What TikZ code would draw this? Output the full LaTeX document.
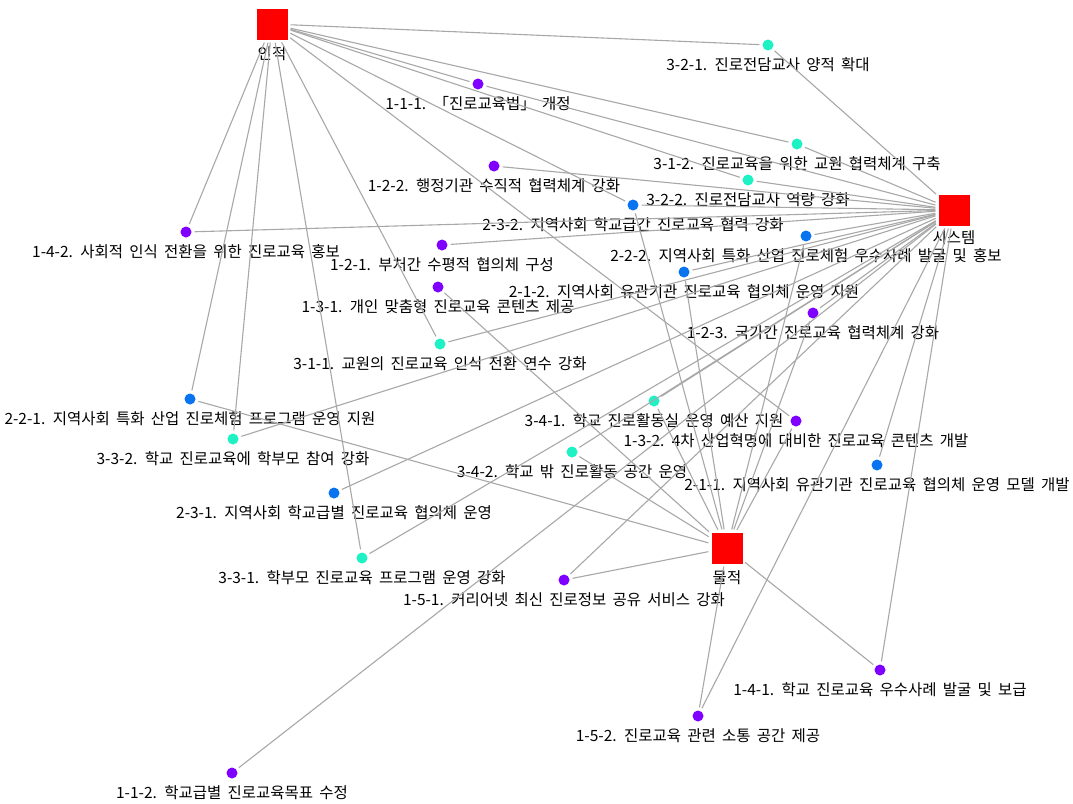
\documentclass[tikz,border=0pt]{standalone}
\usepackage{fontspec}
\setmainfont[WordSpace=1.8]{Noto Sans CJK KR}
\usepackage{xcolor}
\usetikzlibrary{positioning}
\definecolor{hubred}{HTML}{FF0000}
\definecolor{dotpurple}{HTML}{7F00FF}
\definecolor{dotblue}{HTML}{0A74F0}
\definecolor{dotcyan}{HTML}{1EF2C4}
\definecolor{edgegray}{HTML}{A8A8A8}

\begin{document}
\begin{tikzpicture}[x=1pt,y=-1pt,font=\fontsize{15.5}{17}\selectfont,
	hub/.style={fill=hubred,minimum size=31pt,inner sep=0},
	pdot/.style={circle,fill=dotpurple,minimum size=11pt,inner sep=0},
	bdot/.style={circle,fill=dotblue,minimum size=11pt,inner sep=0},
	cdot/.style={circle,fill=dotcyan,minimum size=11pt,inner sep=0},
	lbl/.style={inner sep=0,text height=11pt,text depth=3pt},
	link/.style={draw=edgegray,line width=1.1pt,shorten <=3pt,shorten >=3pt}]
	\useasboundingbox[fill=white] (0,0) rectangle (1073,803);

	% hubs
	\node[hub] (human)    at (272,24)  {};
	\node[hub] (system)   at (954,210) {};
	\node[hub] (material) at (727,548) {};
	\node[lbl, below=9pt of human]    (humanlab)    {인적};
	\node[lbl, below=7pt of system]   (systemlab)   {시스템};
	\node[lbl, below=9pt of material] (materiallab) {물적};

	% items
	\node[cdot] (t321) at (768,45)  {};
	\node[pdot] (t111) at (478,84)  {};
	\node[cdot] (t312) at (797,144) {};
	\node[pdot] (t122) at (494,166) {};
	\node[cdot] (t322) at (748,180) {};
	\node[bdot] (t232) at (633,205) {};
	\node[pdot] (t142) at (186,232) {};
	\node[bdot] (t222) at (806,236) {};
	\node[pdot] (t121) at (442,245) {};
	\node[bdot] (t212) at (684,272) {};
	\node[pdot] (t131) at (438,287) {};
	\node[pdot] (t123) at (813,313) {};
	\node[cdot] (t311) at (440,344) {};
	\node[bdot] (t221) at (190,399) {};
	\node[cdot] (t341) at (654,401) {};
	\node[pdot] (t132) at (796,421) {};
	\node[cdot] (t332) at (233,439) {};
	\node[cdot] (t342) at (572,452) {};
	\node[bdot] (t211) at (877,465) {};
	\node[bdot] (t231) at (334,493) {};
	\node[cdot] (t331) at (362,558) {};
	\node[pdot] (t151) at (564,580) {};
	\node[pdot] (t141) at (880,670) {};
	\node[pdot] (t152) at (698,716) {};
	\node[pdot] (t112) at (232,773) {};

	% item labels
	\node[lbl, below=9pt of t321] {3-2-1. 진로전담교사 양적 확대};
	\node[lbl, below=9pt of t111] {1-1-1. 「진로교육법」 개정};
	\node[lbl, below=9pt of t312] {3-1-2. 진로교육을 위한 교원 협력체계 구축};
	\node[lbl, below=9pt of t122] {1-2-2. 행정기관 수직적 협력체계 강화};
	\node[lbl, below=9pt of t322] {3-2-2. 진로전담교사 역량 강화};
	\node[lbl, below=9pt of t232] {2-3-2. 지역사회 학교급간 진로교육 협력 강화};
	\node[lbl, below=9pt of t142] {1-4-2. 사회적 인식 전환을 위한 진로교육 홍보};
	\node[lbl, below=9pt of t222] {2-2-2. 지역사회 특화 산업 진로체험 우수사례 발굴 및 홍보};
	\node[lbl, below=9pt of t121] {1-2-1. 부처간 수평적 협의체 구성};
	\node[lbl, below=9pt of t212] {2-1-2. 지역사회 유관기관 진로교육 협의체 운영 지원};
	\node[lbl, below=9pt of t131] {1-3-1. 개인 맞춤형 진로교육 콘텐츠 제공};
	\node[lbl, below=9pt of t123] {1-2-3. 국가간 진로교육 협력체계 강화};
	\node[lbl, below=9pt of t311] {3-1-1. 교원의 진로교육 인식 전환 연수 강화};
	\node[lbl, below=9pt of t221] {2-2-1. 지역사회 특화 산업 진로체험 프로그램 운영 지원};
	\node[lbl, below=9pt of t341] {3-4-1. 학교 진로활동실 운영 예산 지원};
	\node[lbl, below=9pt of t132] {1-3-2. 4차 산업혁명에 대비한 진로교육 콘텐츠 개발};
	\node[lbl, below=9pt of t332] {3-3-2. 학교 진로교육에 학부모 참여 강화};
	\node[lbl, below=9pt of t342] {3-4-2. 학교 밖 진로활동 공간 운영};
	\node[lbl, below=9pt of t211] {2-1-1. 지역사회 유관기관 진로교육 협의체 운영 모델 개발};
	\node[lbl, below=9pt of t231] {2-3-1. 지역사회 학교급별 진로교육 협의체 운영};
	\node[lbl, below=9pt of t331] {3-3-1. 학부모 진로교육 프로그램 운영 강화};
	\node[lbl, below=9pt of t151] {1-5-1. 커리어넷 최신 진로정보 공유 서비스 강화};
	\node[lbl, below=9pt of t141] {1-4-1. 학교 진로교육 우수사례 발굴 및 보급};
	\node[lbl, below=9pt of t152] {1-5-2. 진로교육 관련 소통 공간 제공};
	\node[lbl, below=9pt of t112] {1-1-2. 학교급별 진로교육목표 수정};

	% links
	\draw[link]
		(human) edge (t321)  (human) edge (t312)  (human) edge (t111)
		(human) edge (t322)  (human) edge (t232)  (human) edge (t132)
		(human) edge (t311)  (human) edge (t142)  (human) edge (t221)
		(human) edge (t332)  (human) edge (t331);
	\draw[link]
		(system) edge (t321)  (system) edge (t312)  (system) edge (t111)
		(system) edge (t122)  (system) edge (t322)  (system) edge (t232)
		(system) edge (t142)  (system) edge (t121)  (system) edge (t222)
		(system) edge (t311)  (system) edge (t212)  (system) edge (t123)
		(system) edge (t332)  (system) edge (t231)  (system) edge (t331)
		(system) edge (t112)  (system) edge (t341)  (system) edge (t342)
		(system) edge (t151)  (system) edge (t211)  (system) edge (t141)
		(system) edge (t152);
	\draw[link]
		(material) edge (t221)  (material) edge (t131)  (material) edge (t342)
		(material) edge (t341)  (material) edge (t232)  (material) edge (t212)
		(material) edge (t222)  (material) edge (t123)  (material) edge (t132)
		(material) edge (t151)  (material) edge (t152)  (material) edge (t141);
\end{tikzpicture}
\end{document}
